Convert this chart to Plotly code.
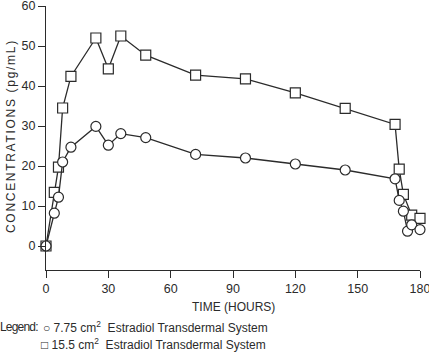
import plotly.graph_objects as go

hours = [0, 4, 6, 8, 12, 24, 30, 36, 48, 72, 96, 120, 144, 168, 170, 172, 174, 176, 180]
conc_775 = [0, 8.2, 12.2, 21.0, 24.7, 29.9, 25.2, 28.1, 27.1, 22.9, 22.0, 20.5, 19.0, 16.8, 11.4, 8.7, 3.7, 5.3, 4.1]

hours_155 = [0, 4, 6, 8, 12, 24, 30, 36, 48, 72, 96, 120, 144, 168, 170, 172, 176, 180]
conc_155 = [0, 13.4, 19.7, 34.5, 42.4, 52.0, 44.3, 52.5, 47.7, 42.7, 41.8, 38.3, 34.4, 30.4, 19.2, 12.9, 7.7, 6.9]

x_ticks = [0, 30, 60, 90, 120, 150, 180]
y_ticks = [0, 10, 20, 30, 40, 50, 60]

FONT = "Liberation Sans, Arial, sans-serif"
INK = "#2b2b2b"

fig = go.Figure()
fig.add_trace(go.Scatter(
    x=hours_155, y=conc_155, mode="lines+markers", cliponaxis=False,
    line=dict(color=INK, width=1.3),
    marker=dict(symbol="square", size=10, color="white", line=dict(color=INK, width=1.2)),
    name="15.5 cm2"))
fig.add_trace(go.Scatter(
    x=hours, y=conc_775, mode="lines+markers", cliponaxis=False,
    line=dict(color=INK, width=1.3),
    marker=dict(symbol="circle", size=10, color="white", line=dict(color=INK, width=1.2)),
    name="7.75 cm2"))

L, R, T, B = 46, 9, 6, 82
W, H = 429, 352
pw = W - L - R
ph = H - T - B

def px_x(p):
    return (p - L) / pw

def px_y(p):
    return (H - B - p) / ph

axis_common = dict(showgrid=False, zeroline=False, showline=True, linecolor=INK, linewidth=1.2,
                   ticks="outside", ticklen=7, tickcolor=INK, tickwidth=1.2,
                   ticklabeloverflow="allow", automargin=False,
                   tickfont=dict(family=FONT, size=12.5, color=INK))

fig.update_layout(
    width=W, height=H, margin=dict(l=L, r=R, t=T, b=B, pad=0, autoexpand=False),
    paper_bgcolor="white", plot_bgcolor="white", showlegend=False,
    font=dict(family=FONT, size=12.5, color=INK),
    xaxis=dict(range=[0, 180], tickvals=x_ticks, ticktext=[str(v) for v in x_ticks], **axis_common),
    yaxis=dict(range=[-6, 60], tickvals=y_ticks, ticktext=[str(v) for v in y_ticks], **axis_common),
)

ann = [
    dict(text='<span style="letter-spacing:1.7px">CONCENTRATIONS (pg/mL)</span>',
         x=px_x(11), y=px_y(136), textangle=-90, xanchor="center", yanchor="middle",
         font=dict(family=FONT, size=12, color=INK)),
    dict(text="TIME (HOURS)", x=px_x(233), y=px_y(307), xanchor="center", yanchor="middle",
         font=dict(family=FONT, size=12, color=INK)),
    dict(text='<span style="letter-spacing:-0.8px">Legend:</span>', x=px_x(39.5), y=px_y(327),
         xanchor="right", yanchor="middle", font=dict(family=FONT, size=12, color=INK)),
    dict(text="○ 7.75 cm<sup>2</sup>  Estradiol Transdermal System", x=px_x(41), y=px_y(327),
         xanchor="left", yanchor="middle", font=dict(family=FONT, size=12, color=INK)),
    dict(text="□ 15.5 cm<sup>2</sup>  Estradiol Transdermal System", x=px_x(39), y=px_y(344),
         xanchor="left", yanchor="middle", font=dict(family=FONT, size=12, color=INK)),
]
for a in ann:
    a.update(xref="paper", yref="paper", showarrow=False)
fig.update_layout(annotations=ann)

fig.write_html("out.html")
